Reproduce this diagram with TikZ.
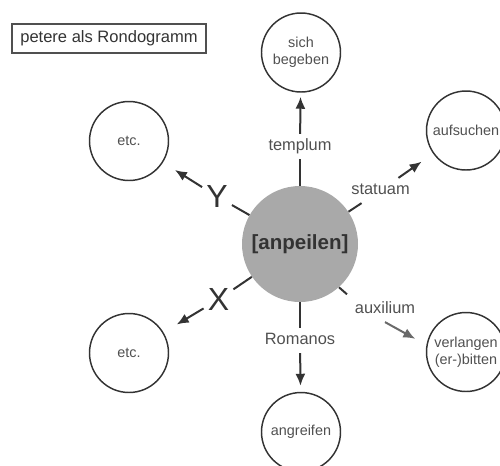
\documentclass[tikz,border=0pt]{standalone}
\usepackage{fontspec}
\setmainfont{Liberation Sans}
\usetikzlibrary{arrows.meta}
\definecolor{ink}{HTML}{333333}
\definecolor{txt}{HTML}{505050}
\definecolor{fillg}{HTML}{A9A9A9}
\definecolor{auxg}{HTML}{6A6A6A}
\tikzset{
  circ/.style={circle, draw=ink, line width=1.1pt, minimum size=59.25pt, inner sep=0pt, align=center, text=txt, font=\fontsize{10.8}{13}\selectfont},
  hub/.style={circle, fill=fillg, minimum size=87pt, inner sep=0pt, text=ink, font=\fontsize{15.4}{18}\selectfont\bfseries},
  lab/.style={text=txt, inner sep=3.5pt, text height=9pt, text depth=2.5pt, font=\fontsize{12.3}{14}\selectfont},
  big/.style={text=ink, inner sep=3pt, font=\fontsize{24}{28}\selectfont},
  ln/.style={draw=ink, line width=1.5pt},
  arr/.style={draw=ink, line width=1.5pt, -{Latex[length=9pt,width=7.5pt]}},
  titlebox/.style={draw=txt, line width=0.8pt, minimum width=145.5pt, minimum height=21.75pt, inner sep=0pt, text=ink, font=\fontsize{12.4}{14}\selectfont}
}
\begin{document}
\begin{tikzpicture}[x=0.75pt, y=-0.75pt]
\useasboundingbox (0,0) rectangle (500,465);
\node[titlebox] (title) at (109,38.5) {petere als Rondogramm};
\node[hub] (C) at (300,244) {[anpeilen]};
\node[circ] (sich) at (301,52.5) {sich\\begeben};
\node[circ] (auf) at (466,130.5) {aufsuchen};
\node[circ] (etc1) at (129,141) {etc.};
\node[circ] (etc2) at (129,353) {etc.};
\node[circ] (ang) at (301,432) {angreifen};
\node[circ] (verl) at (466,352) {verlangen\\(er-)bitten};
\node[lab] (templum) at (300,146.5) {templum};
\node[lab] (statuam) at (380.5,190.5) {statuam};
\node[lab] (aux) at (385,309.5) {auxilium};
\node[lab] (rom) at (300,340.5) {Romanos};
\node[big] (Y) at (217,196.5) {Y};
\node[big] (X) at (218.5,299.5) {X};
% short connecting lines
\draw[ln] (C) -- (templum);
\draw[ln] (C) -- (statuam);
\draw[ln] (C) -- (Y);
\draw[ln] (C) -- (X);
\draw[ln, shorten >=3pt] (C.-48) -- (aux.north west);
\draw[ln] (C) -- (rom);
% arrows
\draw[arr, shorten >=3pt] (templum) -- (sich);
\draw[arr, shorten >=10.5pt] (statuam) -- (auf);
\draw[arr, shorten >=10.5pt] (Y) -- (etc1);
\draw[arr, shorten >=11.5pt] (X) -- (etc2);
\draw[arr, draw=auxg, shorten >=9.5pt] (aux.south) -- (verl.170);
\draw[arr, shorten >=4.5pt] (rom) -- (ang);
\end{tikzpicture}
\end{document}
